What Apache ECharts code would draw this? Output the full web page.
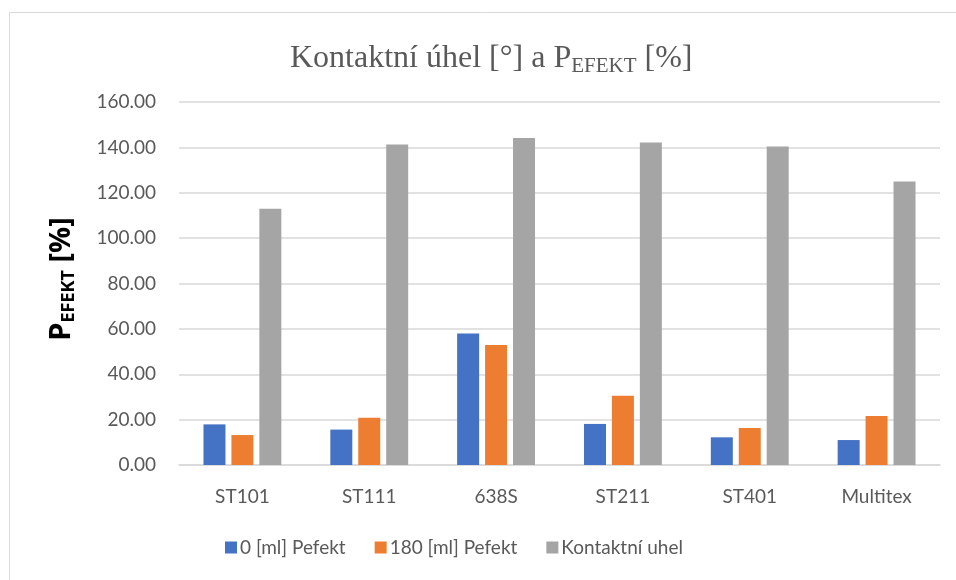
<!DOCTYPE html>
<html>
<head>
<meta charset="utf-8">
<script src="https://cdn.jsdelivr.net/npm/echarts@6/dist/echarts.min.js"></script>
<style>
  html, body { margin: 0; padding: 0; background: #fff; }
  #main { width: 956px; height: 580px; }
</style>
</head>
<body>
<div id="main"></div>
<script>
var categories = ['ST101', 'ST111', '638S', 'ST211', 'ST401', 'Multitex'];
var pefekt0 = [17.9, 15.6, 58.0, 18.1, 12.2, 11.0];
var pefekt180 = [13.2, 20.8, 52.9, 30.5, 16.3, 21.6];
var kontaktniUhel = [112.9, 141.3, 144.1, 142.2, 140.4, 125.0];
var seriesNames = ['0 [ml] Pefekt', '180 [ml] Pefekt', 'Kontaktní uhel'];

var chart = echarts.init(document.getElementById('main'), null, { renderer: 'canvas' });
var textColor = '#595959';
var font = 'Lato, "Open Sans", sans-serif';

var option = {
  backgroundColor: '#fff',
  color: ['#4472C4', '#ED7D31', '#A5A5A5'],
  animation: false,
  graphic: [{
    type: 'rect',
    shape: { x: 9.5, y: 12.5, width: 1000, height: 1000 },
    style: { fill: 'none', stroke: '#D9D9D9', lineWidth: 1 }
  }],
  title: {
    text: '{a|Kontaktní úhel [°] a P}{s|EFEKT}{a| [%]}',
    left: 285,
    top: 36,
    textStyle: {
      fontWeight: 'normal',
      rich: {
        a: { fontFamily: '"Liberation Serif", serif', fontWeight: 'normal', fontSize: 32, color: textColor, lineHeight: 36 },
        s: { fontFamily: '"Liberation Serif", serif', fontWeight: 'normal', fontSize: 21, color: textColor, lineHeight: 18, verticalAlign: 'bottom' }
      }
    }
  },
  legend: {
    data: seriesNames,
    bottom: 18,
    left: 220,
    itemWidth: 12,
    itemHeight: 12,
    itemGap: 29,
    icon: 'rect',
    textStyle: { fontFamily: font, fontSize: 19, color: textColor, padding: [0, 0, 0, -2] }
  },
  grid: { left: 179, right: 16, top: 102, bottom: 115, containLabel: false },
  xAxis: {
    type: 'category',
    data: categories,
    axisLine: { lineStyle: { color: '#D9D9D9', width: 1.5 } },
    axisTick: { show: false },
    axisLabel: { fontFamily: font, fontSize: 19, color: textColor, margin: 22 }
  },
  yAxis: {
    type: 'value',
    min: 0,
    max: 160,
    interval: 20,
    name: '{p|P}{s|EFEKT}{p| [%]}',
    nameLocation: 'middle',
    nameGap: 101,
    nameRotate: 90,
    nameTextStyle: {
      padding: [0, 0, 0, 9],
      rich: {
        p: { fontFamily: '"Open Sans", sans-serif', fontWeight: 'bold', fontSize: 29, color: '#000', lineHeight: 32 },
        s: { fontFamily: '"Open Sans", sans-serif', fontWeight: 'bold', fontSize: 18, color: '#000', lineHeight: 18, verticalAlign: 'bottom' }
      }
    },
    axisLine: { show: false },
    axisTick: { show: false },
    splitLine: { lineStyle: { color: '#D9D9D9', width: 1.5 } },
    axisLabel: {
      fontFamily: font, fontSize: 19, color: textColor, margin: 23,
      formatter: function (v) { return v.toFixed(2); }
    }
  },
  series: [
    { name: seriesNames[0], type: 'bar', data: pefekt0, barWidth: 22, barGap: '27%' },
    { name: seriesNames[1], type: 'bar', data: pefekt180, barWidth: 22, barGap: '27%' },
    { name: seriesNames[2], type: 'bar', data: kontaktniUhel, barWidth: 22, barGap: '27%' }
  ]
};

chart.setOption(option);
</script>
</body>
</html>
